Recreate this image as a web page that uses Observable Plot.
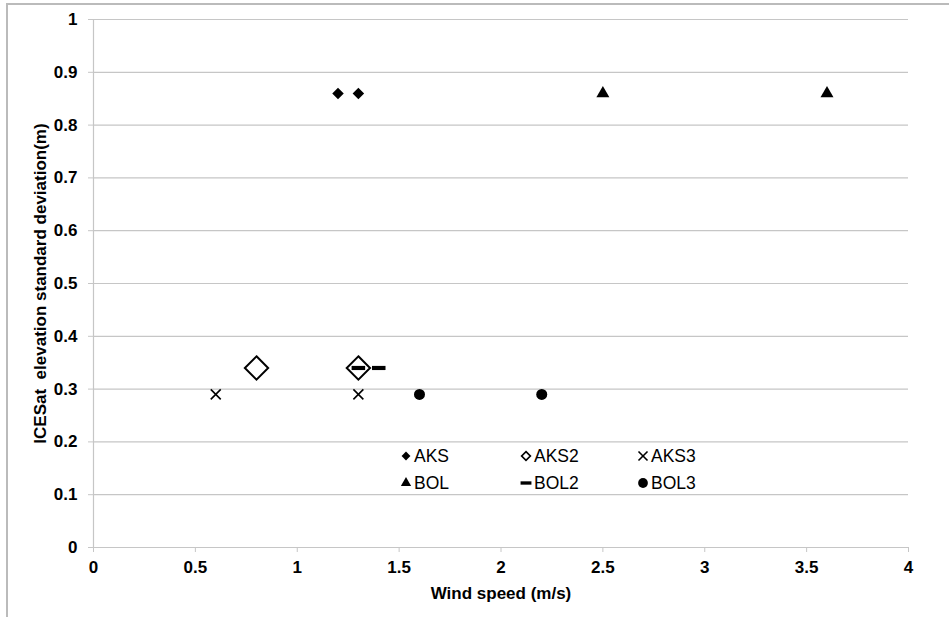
<!DOCTYPE html>
<html><head><meta charset="utf-8">
<script src="https://cdn.jsdelivr.net/npm/d3@7"></script>
<script src="https://cdn.jsdelivr.net/npm/@observablehq/plot@0.6"></script>
<style>
body{margin:0;background:#fff;font-family:"Liberation Sans",Arial,sans-serif;}
#wrap{position:relative;width:949px;height:617px;overflow:hidden;background:#fff;}
#border{position:absolute;left:6px;top:3px;width:1000px;height:700px;border-left:2px solid #bbb;border-top:2px solid #bbb;box-sizing:border-box;}
#chart{position:absolute;left:0;top:0;}
#legend{position:absolute;left:399px;top:445px;font-size:17.5px;color:#000;}
.item{position:absolute;white-space:nowrap;height:22px;line-height:22px;}
.item svg{vertical-align:middle;margin-right:1px;position:relative;top:-1px;}
</style>
</head><body>
<div id="wrap"><div id="border"></div><div id="chart"></div><div id="legend"></div></div>
<script>
// ---- data ----
const seriesNames = ["AKS", "AKS2", "AKS3", "BOL", "BOL2", "BOL3"];
const aksX  = [1.2, 1.3];  const aksY  = [0.86, 0.86];
const aks2X = [0.8, 1.3];  const aks2Y = [0.34, 0.34];
const aks3X = [0.6, 1.3];  const aks3Y = [0.29, 0.29];
const bolX  = [2.5, 3.6];  const bolY  = [0.86, 0.86];
const bol2X = [1.3, 1.4];  const bol2Y = [0.34, 0.34];
const bol3X = [1.6, 2.2];  const bol3Y = [0.29, 0.29];
const xTicks = [0, 0.5, 1, 1.5, 2, 2.5, 3, 3.5, 4];
const yTicks = [0, 0.1, 0.2, 0.3, 0.4, 0.5, 0.6, 0.7, 0.8, 0.9, 1];
const xLabel = "Wind speed (m/s)";
const yLabel = "ICESat  elevation standard deviation(m)";

const toRows = (name, xs, ys) => xs.map((x, i) => ({series: name, x, y: ys[i]}));
const rows = {
  AKS: toRows("AKS", aksX, aksY),
  AKS2: toRows("AKS2", aks2X, aks2Y),
  AKS3: toRows("AKS3", aks3X, aks3Y),
  BOL: toRows("BOL", bolX, bolY),
  BOL2: toRows("BOL2", bol2X, bol2Y),
  BOL3: toRows("BOL3", bol3X, bol3Y)
};

const dashSymbol = {
  draw(ctx, size) {
    const k = Math.sqrt(size / Math.PI);
    ctx.moveTo(-1.3 * k, -0.4 * k);
    ctx.lineTo(1.3 * k, -0.4 * k);
    ctx.lineTo(1.3 * k, 0.4 * k);
    ctx.lineTo(-1.3 * k, 0.4 * k);
    ctx.closePath();
  }
};

const grid = "#c6c6c6";
const fmt = d => d3.format("~g")(d);

const plot = Plot.plot({
  width: 949, height: 617,
  marginLeft: 93, marginRight: 41, marginTop: 19, marginBottom: 70,
  style: {fontFamily: "'Liberation Sans', Arial, sans-serif", fontSize: "17px", fontWeight: "bold", color: "#000", background: "transparent"},
  x: {domain: [0, 4]},
  y: {domain: [0, 1]},
  marks: [
    Plot.ruleY(yTicks, {stroke: grid, strokeWidth: 1.2}),
    Plot.ruleX([0], {stroke: grid, strokeWidth: 1.2}),
    Plot.axisY({ticks: yTicks, tickFormat: fmt, tickSize: 5, tickPadding: 11, stroke: grid, strokeOpacity: 1,
      label: yLabel, labelAnchor: "center", labelArrow: "none", labelOffset: 60}),
    Plot.axisX({ticks: xTicks, tickFormat: fmt, tickSize: 5, tickPadding: 8, stroke: grid, strokeOpacity: 1,
      label: xLabel, labelAnchor: "center", labelArrow: "none", labelOffset: 51}),
    Plot.dot(rows.AKS2, {x: "x", y: "y", symbol: "diamond2", r: 10.5, stroke: "#000", strokeWidth: 2, fill: "none"}),
    Plot.dot(rows.AKS, {x: "x", y: "y", symbol: "diamond2", r: 5.2, fill: "#000", stroke: "none"}),
    Plot.dot(rows.AKS3, {x: "x", y: "y", symbol: "times", r: 4.6, stroke: "#000", strokeWidth: 1.6}),
    Plot.dot(rows.BOL, {x: "x", y: "y", symbol: "triangle2", r: 6.2, fill: "#000", stroke: "none"}),
    Plot.dot(rows.BOL2, {x: "x", y: "y", symbol: dashSymbol, r: 5.2, fill: "#000", stroke: "none"}),
    Plot.dot(rows.BOL3, {x: "x", y: "y", symbol: "circle", r: 5.5, fill: "#000", stroke: "none"})
  ]
});
document.getElementById("chart").appendChild(plot);

// legend (HTML overlay)
const legendSpec = {
  AKS:  {type: d3.symbolDiamond2, size: 50, fill: "#000", stroke: "none"},
  AKS2: {type: d3.symbolDiamond2, size: 48, fill: "none", stroke: "#000", sw: 1.7},
  AKS3: {type: d3.symbolTimes, size: 55, fill: "none", stroke: "#000", sw: 1.6},
  BOL:  {type: d3.symbolTriangle2, size: 75, fill: "#000", stroke: "none"},
  BOL2: {type: dashSymbol, size: 55, fill: "#000", stroke: "none"},
  BOL3: {type: d3.symbolCircle, size: 75, fill: "#000", stroke: "none"}
};
const colX = [0, 120, 237];
const rowY = [0, 27];
const leg = document.getElementById("legend");
seriesNames.forEach((name, i) => {
  const s = legendSpec[name];
  const div = document.createElement("div");
  div.className = "item";
  div.style.left = colX[i % 3] + "px";
  div.style.top = rowY[Math.floor(i / 3)] + "px";
  const path = d3.symbol(s.type, s.size)();
  div.innerHTML = `<svg width="14" height="14" viewBox="-7 -7 14 14"><path d="${path}" fill="${s.fill}" stroke="${s.stroke}" stroke-width="${s.sw || 0}"/></svg>${name}`;
  leg.appendChild(div);
});
</script>
</body></html>
